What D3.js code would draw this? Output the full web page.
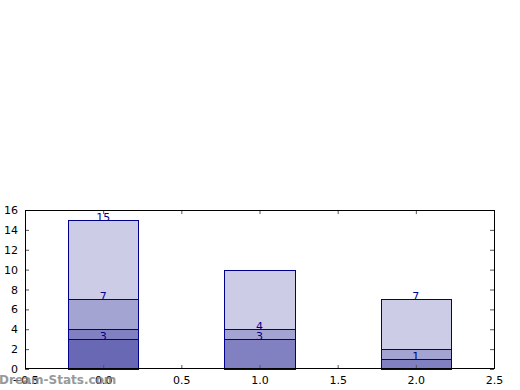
<!DOCTYPE html>
<html>
<head>
<meta charset="utf-8">
<script src="https://cdn.jsdelivr.net/npm/d3@7"></script>
<style>
  body { margin: 0; background: #fff; }
  svg text { font-family: 'DejaVu Sans', sans-serif; }
</style>
</head>
<body>
<div id="chart"></div>
<script>
// stacked bars, one series per layer (bottom to top)
var categories = [0, 1, 2];
var series1 = [3, 0, 0];
var series2 = [1, 3, 1];
var series3 = [3, 1, 1];
var series4 = [8, 6, 5];
var seriesColors = ['#6868b4', '#8181c1', '#a4a4d2', '#cccce6'];
// value labels drawn on the bars
var labelBars = [0, 0, 0, 1, 1, 2, 2];
var labelValues = [3, 7, 15, 3, 4, 1, 7];
var xTicks = [-0.5, 0.0, 0.5, 1.0, 1.5, 2.0, 2.5];
var yTicks = [0, 2, 4, 6, 8, 10, 12, 14, 16];

var W = 520, H = 390;
var margin = {top: 210, right: 26, bottom: 21, left: 25};
var width = W - margin.left - margin.right,
    height = H - margin.top - margin.bottom;

var svg = d3.select('#chart').append('svg')
    .attr('width', W)
    .attr('height', H);
var chart = svg.append('g')
    .attr('transform', 'translate(' + margin.left + ',' + margin.top + ')');

var xScale = d3.scaleLinear().domain([-0.5, 2.5]).range([0, width]);
var yScale = d3.scaleLinear().domain([0, 16]).range([height, 0]);
var barWidth = 0.45;

var layers = [series1, series2, series3, series4];
var stacked = categories.map(function(c, i) {
    var base = 0;
    return layers.map(function(s, k) {
        var seg = {cat: c, k: k, y0: base, y1: base + s[i]};
        base += s[i];
        return seg;
    }).filter(function(d) { return d.y1 > d.y0; });
});
var segments = [].concat.apply([], stacked);

chart.selectAll('rect.seg')
    .data(segments)
    .enter()
    .append('rect').classed('seg', true)
    .attr('x', function(d) { return Math.round(xScale(d.cat - barWidth / 2)) + 0.5; })
    .attr('width', function(d) {
        return Math.round(xScale(d.cat + barWidth / 2)) - Math.round(xScale(d.cat - barWidth / 2));
    })
    .attr('y', function(d) { return Math.round(yScale(d.y1)) + 0.5; })
    .attr('height', function(d) { return Math.round(yScale(d.y0)) - Math.round(yScale(d.y1)); })
    .style('fill', function(d) { return seriesColors[d.k]; })
    .style('stroke', '#00008b')
    .style('stroke-width', 1);

// labels
chart.selectAll('text.lbl')
    .data(labelValues)
    .enter()
    .append('text').classed('lbl', true)
    .text(function(d) { return d; })
    .attr('x', function(d, i) { return xScale(categories[labelBars[i]]); })
    .attr('y', function(d) { return yScale(d) + 1; })
    .attr('text-anchor', 'middle')
    .style('font-size', '11px')
    .style('fill', '#00008b');

// axes
function customAxis(g, axis) {
    g.call(axis);
    g.select('.domain').remove();
    g.selectAll('line').style('stroke', '#555');
    g.selectAll('text').style('fill', '#000')
        .style('font-family', "'DejaVu Sans', sans-serif")
        .style('font-size', '11px');
}
var fmtX = d3.format('.1f');
chart.append('g').attr('transform', 'translate(0,' + height + ')')
    .call(customAxis, d3.axisBottom(xScale).tickValues(xTicks).tickSize(-4).tickPadding(7).tickFormat(fmtX));
chart.append('g')
    .call(function(g) {
        customAxis(g, d3.axisTop(xScale).tickValues(xTicks).tickSize(-4).tickFormat(''));
    });
chart.append('g')
    .call(customAxis, d3.axisLeft(yScale).tickValues(yTicks).tickSize(-4).tickPadding(7));
chart.append('g').attr('transform', 'translate(' + width + ',0)')
    .call(function(g) {
        customAxis(g, d3.axisRight(yScale).tickValues(yTicks).tickSize(-4).tickFormat(''));
    });

// frame
chart.append('rect')
    .attr('x', 0.5).attr('y', 0.5)
    .attr('width', width).attr('height', height - 1)
    .style('fill', 'none')
    .style('stroke', '#000')
    .style('stroke-width', 1);

// watermark
svg.append('text')
    .text('Dream-Stats.com')
    .attr('x', -1)
    .attr('y', 384)
    .style('font-size', '12px')
    .style('font-weight', 'bold')
    .style('fill', '#888')
    .style('opacity', 0.85);
</script>
</body>
</html>
